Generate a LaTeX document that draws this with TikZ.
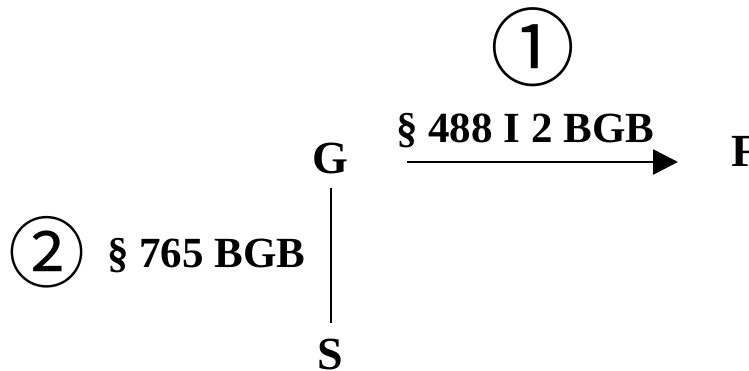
\documentclass[tikz,border=0pt]{standalone}
\usepackage{fontspec}
\setmainfont{Liberation Serif}
\newfontfamily\circfont{Noto Sans CJK SC}
\usetikzlibrary{arrows.meta}
\tikzset{
  party/.style={font=\bfseries\fontsize{46}{50}\selectfont, inner sep=0pt},
  law/.style={font=\bfseries\fontsize{43}{47}\selectfont, inner sep=0pt},
  circ/.style={font=\circfont\fontsize{#1}{#1}\selectfont, inner sep=0pt},
  conn/.style={line width=2.5pt},
}
\begin{document}
\begin{tikzpicture}[x=1pt,y=1pt]
\useasboundingbox (0,0) rectangle (749,-371);
\node[party, anchor=base] (G) at (330,-174) {G};
\node[party, anchor=base] (S) at (330,-369) {S};
\node[party, anchor=base west] (F) at (731,-167) {F};
\coordinate (gs1) at (331,-188);
\coordinate (gs2) at (331,-323);
\draw[conn] (gs1) -- (gs2);
\coordinate (a1) at (407,-162);
\coordinate (a2) at (678,-162);
\draw[conn, -{Triangle[length=25pt,width=25pt]}] (a1) -- (a2);
\node[law, anchor=base west] (L1) at (396,-143) {\S\ 488 I 2 BGB};
\node[law, anchor=base west] (L2) at (107,-268) {\S\ 765 BGB};
\node[circ=85] (C1) at (533,-47) {①};
\node[circ=77] (C2) at (47,-252) {②};
\end{tikzpicture}
\end{document}
